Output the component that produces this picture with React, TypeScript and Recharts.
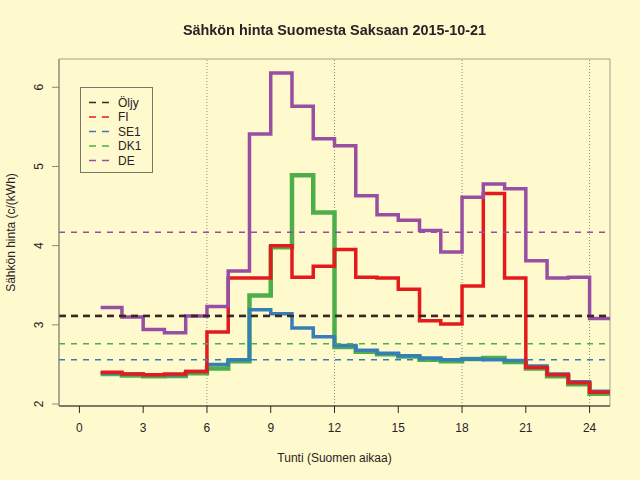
import { LineChart, Line, XAxis, YAxis, ReferenceLine, ReferenceArea, Legend } from "recharts";

// hours of the day (last point repeats hour 24 so the final step is drawn)
const hours = [1, 2, 3, 4, 5, 6, 7, 8, 9, 10, 11, 12, 13, 14, 15, 16, 17, 18, 19, 20, 21, 22, 23, 24, 25];

const fi = [2.40, 2.38, 2.37, 2.38, 2.41, 2.91, 3.59, 3.59, 4.00, 3.60, 3.74, 3.95, 3.60, 3.59, 3.45, 3.05, 3.01, 3.49, 4.66, 3.59, 2.46, 2.37, 2.27, 2.15, 2.15];
const se1 = [2.39, 2.38, 2.37, 2.37, 2.41, 2.50, 2.56, 3.19, 3.14, 2.96, 2.85, 2.74, 2.68, 2.64, 2.61, 2.58, 2.56, 2.57, 2.56, 2.55, 2.48, 2.38, 2.28, 2.16, 2.16];
const dk1 = [2.38, 2.36, 2.35, 2.355, 2.39, 2.45, 2.54, 3.37, 3.98, 4.89, 4.42, 2.72, 2.66, 2.63, 2.60, 2.56, 2.54, 2.57, 2.58, 2.53, 2.45, 2.35, 2.25, 2.13, 2.13];
const de = [3.22, 3.10, 2.94, 2.90, 3.11, 3.23, 3.68, 5.41, 6.18, 5.76, 5.35, 5.26, 4.63, 4.39, 4.32, 4.19, 3.92, 4.61, 4.78, 4.72, 3.81, 3.59, 3.60, 3.08, 3.08];

// daily averages (dashed lines) and legend
const seriesNames = ["Öljy", "FI", "SE1", "DK1", "DE"];
const seriesColors = ["#332a2a", "#e41a1c", "#377eb8", "#4daf4a", "#984ea3"];
const averages = [3.11, 3.115, 2.56, 2.76, 4.17];

const xTicks = [0, 3, 6, 9, 12, 15, 18, 21, 24];
const yTicks = [2, 3, 4, 5, 6];
const hourMarks = [6, 12, 18, 24];

const xDomain = [-0.96, 24.96];
const yDomain = [1.975, 6.357];

const rows = hours.map((h, i) => ({ hour: h, FI: fi[i], SE1: se1[i], DK1: dk1[i], DE: de[i] }));

const font = "'Liberation Sans', Arial, Helvetica, sans-serif";
const bg = "#fffacd";
const ink = "#2a2226";

const XTick = ({ x, y, payload }: any) => (
  <text x={x} y={y} dy={17} textAnchor="middle" fontSize={12} fill={ink} fontFamily={font}>
    {payload.value}
  </text>
);

const YTick = ({ x, y, payload }: any) => (
  <text
    x={x - 7}
    y={y}
    textAnchor="middle"
    fontSize={12}
    fill={ink}
    fontFamily={font}
    transform={`rotate(-90, ${x - 7}, ${y})`}
  >
    {payload.value}
  </text>
);

const YLabel = ({ viewBox }: any) => {
  const cy = viewBox.y + viewBox.height / 2;
  return (
    <text x={14.5} y={cy} textAnchor="middle" fontSize={12} fill={ink} fontFamily={font} transform={`rotate(-90, 14.5, ${cy})`}>
      Sähkön hinta (c/(kWh)
    </text>
  );
};

const LegendBox = () => (
  <svg width={74} height={87} style={{ display: "block" }}>
    <rect x={0.5} y={0.5} width={72} height={85} fill="none" stroke="#7d7468" />
    {seriesNames.map((name, i) => {
      const cy = 15.5 + i * 14.5;
      return (
        <g key={name}>
          <line x1={9} y1={cy} x2={29} y2={cy} stroke={seriesColors[i]} strokeWidth={1.5} strokeDasharray="7 6" />
          <text x={38} y={cy + 4.3} fontSize={12} fill={ink} fontFamily={font}>
            {name}
          </text>
        </g>
      );
    })}
  </svg>
);

export default function App() {
  return (
    <div style={{ position: "fixed", left: 0, top: 0, width: 640, height: 480, background: bg }}>
      <LineChart width={640} height={480} data={rows} margin={{ top: 59, right: 30, bottom: 0, left: 0 }}>
        <XAxis
          dataKey="hour"
          type="number"
          domain={xDomain}
          allowDataOverflow
          ticks={xTicks}
          interval={0}
          height={74}
          tickSize={7}
          tickLine={{ stroke: "#2d2626" }}
          axisLine={{ stroke: "#2d2626" }}
          tick={XTick}
          label={{ value: "Tunti (Suomen aikaa)", position: "insideBottom", offset: 18, fontSize: 12, fill: ink, fontFamily: font }}
        />
        <YAxis
          type="number"
          domain={yDomain}
          allowDataOverflow
          ticks={yTicks}
          interval={0}
          width={59}
          tickSize={7}
          tickLine={{ stroke: "#8c8474" }}
          axisLine={{ stroke: "#8c8474" }}
          tick={YTick}
          label={{ content: YLabel }}
        />
        <ReferenceArea x1={xDomain[0]} x2={xDomain[1]} y1={yDomain[0]} y2={yDomain[1]} fill="none" stroke="#a59f8c" />
        {hourMarks.map((h) => (
          <ReferenceLine key={h} x={h} stroke="#8f8a80" strokeDasharray="1 2" />
        ))}
        <Line dataKey="DK1" type="stepAfter" stroke={seriesColors[3]} strokeWidth={4.5} dot={false} isAnimationActive={false} />
        <Line dataKey="SE1" type="stepAfter" stroke={seriesColors[2]} strokeWidth={3.5} dot={false} isAnimationActive={false} />
        <Line dataKey="FI" type="stepAfter" stroke={seriesColors[1]} strokeWidth={3.5} dot={false} isAnimationActive={false} />
        <Line dataKey="DE" type="stepAfter" stroke={seriesColors[4]} strokeWidth={3.5} dot={false} isAnimationActive={false} />
        <ReferenceLine y={averages[1]} stroke={seriesColors[1]} strokeWidth={2} strokeDasharray="7 5" />
        <ReferenceLine y={averages[0]} stroke={seriesColors[0]} strokeWidth={2.5} strokeDasharray="7 5" />
        <ReferenceLine y={averages[2]} stroke={seriesColors[2]} strokeWidth={1.5} strokeDasharray="6 6" />
        <ReferenceLine y={averages[3]} stroke={seriesColors[3]} strokeWidth={1.5} strokeDasharray="6 6" />
        <ReferenceLine y={averages[4]} stroke={seriesColors[4]} strokeWidth={1.5} strokeDasharray="6 6" />
        <Legend
          layout="vertical"
          align="center"
          verticalAlign="middle"
          wrapperStyle={{ left: 80, top: 87, width: 74, height: 87 }}
          content={LegendBox}
        />
      </LineChart>
      <div
        style={{
          position: "absolute",
          left: 0,
          top: 22,
          width: 669,
          textAlign: "center",
          fontFamily: font,
          fontWeight: "bold",
          fontSize: 14.4,
          lineHeight: "16px",
          color: ink,
        }}
      >
        Sähkön hinta Suomesta Saksaan 2015-10-21
      </div>
    </div>
  );
}
